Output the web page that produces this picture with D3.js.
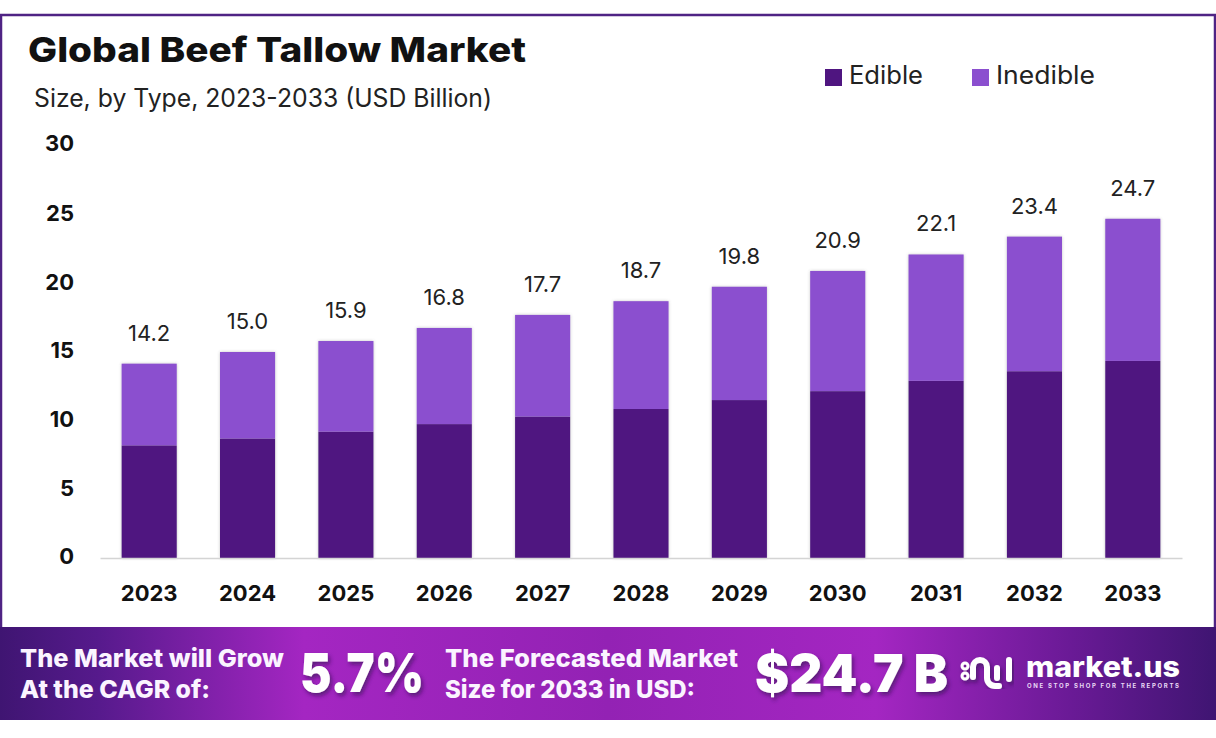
<!DOCTYPE html>
<html>
<head>
<meta charset="utf-8">
<script src="https://cdn.jsdelivr.net/npm/d3@7"></script>
<style>
  html, body { margin: 0; padding: 0; background: #fff; }
  svg { display: block; font-family: Inter, "Noto Sans", sans-serif; }
</style>
</head>
<body>
<div id="chart"></div>
<script>
// values
const years = ['2023', '2024', '2025', '2026', '2027', '2028', '2029', '2030', '2031', '2032', '2033'];
const edible = [8.2, 8.7, 9.2, 9.75, 10.3, 10.85, 11.5, 12.15, 12.9, 13.6, 14.35];
const inedible = [5.95, 6.3, 6.6, 7.0, 7.4, 7.85, 8.25, 8.75, 9.2, 9.8, 10.35];
const totals = ['14.2', '15.0', '15.9', '16.8', '17.7', '18.7', '19.8', '20.9', '22.1', '23.4', '24.7'];
const yTicks = [0, 5, 10, 15, 20, 25, 30];
const seriesNames = ['Edible', 'Inedible'];

const cssColors = {
    edible: '#4f1580',
    inedible: '#8b4fcf',
    frame: '#4f2384',
    axis: '#d4d4d4',
    text: '#111111',
};

const width = 1216;
const height = 738;

const svg = d3.select('#chart')
    .append('svg')
    .attr('width', width)
    .attr('height', height);

const defs = svg.append('defs');

const bannerGradient = defs.append('linearGradient').attr('id', 'banner-gradient');
bannerGradient.selectAll('stop')
    .data([
        [0, '#3f1572'],
        [0.08, '#561a8c'],
        [0.25, '#a426c2'],
        [0.5, '#9322b4'],
        [0.72, '#a426c2'],
        [0.88, '#6a1a96'],
        [1, '#3f1572'],
    ])
    .enter()
    .append('stop')
    .attr('offset', (d) => d[0])
    .attr('stop-color', (d) => d[1]);

const shadow = defs.append('filter').attr('id', 'text-shadow');
shadow.append('feDropShadow')
    .attr('dx', 2)
    .attr('dy', 3)
    .attr('stdDeviation', 2)
    .attr('flood-color', '#2b0a4d')
    .attr('flood-opacity', 0.6);

const barShadow = defs.append('filter').attr('id', 'bar-shadow');
barShadow.append('feDropShadow')
    .attr('dx', 0)
    .attr('dy', 0)
    .attr('stdDeviation', 1.5)
    .attr('flood-color', '#555')
    .attr('flood-opacity', 0.35);

// frame around the chart
svg.append('rect')
    .attr('x', 1)
    .attr('y', 15)
    .attr('width', width - 2)
    .attr('height', 620)
    .attr('fill', '#fff')
    .attr('stroke', cssColors.frame)
    .attr('stroke-width', 2.5);

// title block
svg.append('text')
    .attr('x', 28)
    .attr('y', 62)
    .attr('font-size', 34)
    .attr('font-weight', 800)
    .attr('fill', cssColors.text)
    .attr('textLength', 498)
    .attr('lengthAdjust', 'spacingAndGlyphs')
    .text('Global Beef Tallow Market');

svg.append('text')
    .attr('x', 34)
    .attr('y', 107)
    .attr('font-size', 25)
    .attr('fill', '#222')
    .attr('textLength', 458)
    .attr('lengthAdjust', 'spacingAndGlyphs')
    .text('Size, by Type, 2023-2033 (USD Billion)');

// legend
const legendX = [825, 972];
const legendLen = [74, 99];
const legendColors = [cssColors.edible, cssColors.inedible];
const legend = svg.selectAll('.legend')
    .data(seriesNames)
    .enter()
    .append('g')
    .attr('class', 'legend')
    .attr('transform', (d, i) => `translate(${legendX[i]}, 69)`);
legend.append('rect')
    .attr('width', 17)
    .attr('height', 17)
    .attr('fill', (d, i) => legendColors[i]);
legend.append('text')
    .attr('x', 24)
    .attr('y', 15)
    .attr('font-size', 25)
    .attr('fill', '#222')
    .attr('textLength', (d, i) => legendLen[i])
    .attr('lengthAdjust', 'spacingAndGlyphs')
    .text((d) => d);

// scales
const x = d3.scaleBand().domain(years).range([100, 1182]).paddingInner(0.44).paddingOuter(0.22);
const y = d3.scaleLinear().domain([0, 30]).range([558, 146]);

// stacked bars
const rows = years.map((year, i) => ({ year, Edible: edible[i], Inedible: inedible[i], total: totals[i] }));
const stacked = d3.stack().keys(seriesNames)(rows);

svg.append('g')
    .attr('filter', 'url(#bar-shadow)')
    .selectAll('g')
    .data(stacked)
    .enter()
    .append('g')
    .attr('fill', (d, i) => legendColors[i])
    .selectAll('rect')
    .data((d) => d)
    .enter()
    .append('rect')
    .attr('x', (d) => x(d.data.year))
    .attr('width', x.bandwidth())
    .attr('y', (d) => y(d[1]))
    .attr('height', (d) => y(d[0]) - y(d[1]));

// total labels
svg.append('g')
    .selectAll('text')
    .data(rows)
    .enter()
    .append('text')
    .attr('x', (d) => x(d.year) + x.bandwidth() / 2)
    .attr('y', (d) => y(d.Edible + d.Inedible) - 23)
    .attr('text-anchor', 'middle')
    .attr('font-size', 22)
    .attr('fill', '#222')
    .text((d) => d.total);

// axes
const xAxis = svg.append('g')
    .attr('transform', 'translate(0, 558)')
    .call(d3.axisBottom(x).tickSize(0).tickPadding(27));
xAxis.select('.domain').attr('stroke', cssColors.axis).attr('stroke-width', 1.5);
xAxis.selectAll('text')
    .attr('font-family', 'Inter, "Noto Sans", sans-serif')
    .attr('font-size', 22)
    .attr('font-weight', 700)
    .attr('fill', cssColors.text);

const yAxis = svg.append('g')
    .attr('transform', 'translate(74, 0)')
    .call(d3.axisLeft(y).tickValues(yTicks).tickSize(0).tickPadding(0));
yAxis.select('.domain').remove();
yAxis.selectAll('text')
    .attr('dy', (d) => (d === 30 ? '0.2em' : '0.27em'))
    .attr('font-family', 'Inter, "Noto Sans", sans-serif')
    .attr('font-size', 22)
    .attr('font-weight', 700)
    .attr('fill', cssColors.text);

// bottom banner
svg.append('rect')
    .attr('x', 0)
    .attr('y', 627)
    .attr('width', width)
    .attr('height', 93)
    .attr('fill', 'url(#banner-gradient)');

const bannerText = [
    { x: 20, y: 667, size: 24.5, len: 264, text: 'The Market will Grow' },
    { x: 20, y: 698, size: 24.5, len: 190, text: 'At the CAGR of:' },
    { x: 445, y: 667, size: 24.5, len: 293, text: 'The Forecasted Market' },
    { x: 445, y: 698, size: 24.5, len: 250, text: 'Size for 2033 in USD:' },
];
svg.append('g')
    .selectAll('text')
    .data(bannerText)
    .enter()
    .append('text')
    .attr('x', (d) => d.x)
    .attr('y', (d) => d.y)
    .attr('font-size', (d) => d.size)
    .attr('font-weight', 800)
    .attr('fill', '#fbf4ff')
    .attr('textLength', (d) => d.len)
    .attr('lengthAdjust', 'spacingAndGlyphs')
    .text((d) => d.text);

const bigText = [
    { x: 300, y: 692, size: 54, len: 124, text: '5.7%' },
    { x: 755, y: 692, size: 52, len: 193, text: '$24.7 B' },
];
svg.append('g')
    .selectAll('text')
    .data(bigText)
    .enter()
    .append('text')
    .attr('x', (d) => d.x)
    .attr('y', (d) => d.y)
    .attr('font-size', (d) => d.size)
    .attr('font-weight', 900)
    .attr('fill', '#fff')
    .attr('filter', 'url(#text-shadow)')
    .attr('textLength', (d) => d.len)
    .attr('lengthAdjust', 'spacingAndGlyphs')
    .text((d) => d.text);

// logo mark
const logo = svg.append('g')
    .attr('fill', 'none')
    .attr('stroke', '#fff')
    .attr('stroke-width', 6)
    .attr('stroke-linecap', 'round')
    .attr('filter', 'url(#text-shadow)');
logo.append('path').attr('d', 'M973 677 v-10 a7 7 0 0 1 14 0 v11 a8 8 0 0 0 8 8 h4');
logo.append('path').attr('d', 'M997 668 v10');
logo.append('path').attr('d', 'M1009 660 v19');
logo.append('circle').attr('cx', 965).attr('cy', 666).attr('r', 1.5);
logo.append('circle').attr('cx', 965).attr('cy', 676).attr('r', 1.5);

svg.append('text')
    .attr('x', 1026)
    .attr('y', 677)
    .attr('font-size', 28)
    .attr('font-weight', 800)
    .attr('fill', '#fff')
    .attr('textLength', 154)
    .attr('lengthAdjust', 'spacingAndGlyphs')
    .text('market.us');

svg.append('text')
    .attr('x', 1027)
    .attr('y', 688)
    .attr('font-size', 6)
    .attr('font-weight', 700)
    .attr('fill', '#e9d9f5')
    .attr('textLength', 152)
    .text('ONE STOP SHOP FOR THE REPORTS');
</script>
</body>
</html>
